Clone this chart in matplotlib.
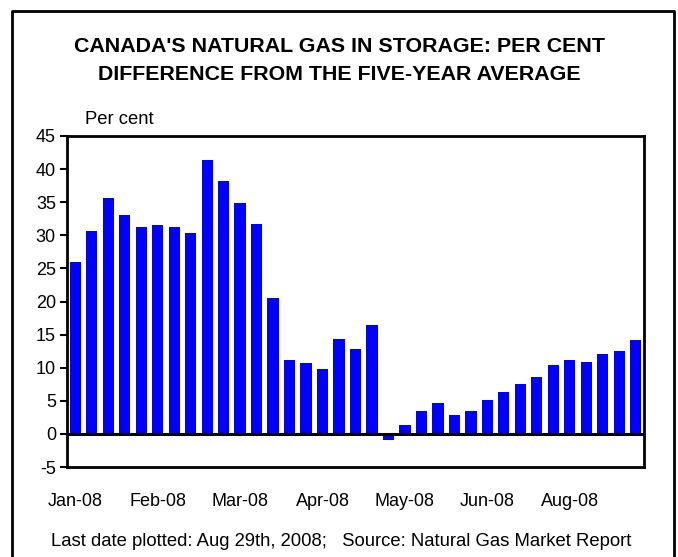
import matplotlib
matplotlib.use("Agg")
import matplotlib.pyplot as plt
import numpy as np
from matplotlib.lines import Line2D

plt.rcParams['font.family'] = ['Liberation Sans', 'DejaVu Sans']
plt.rcParams['axes.unicode_minus'] = False

# weekly storage difference vs five-year average, per cent
values = [26.0, 30.7, 35.6, 33.1, 31.3, 31.6, 31.3, 30.4, 41.4, 38.2,
          34.9, 31.7, 20.5, 11.2, 10.7, 9.8, 14.3, 12.8, 16.5, -0.9,
          1.4, 3.5, 4.7, 2.9, 3.5, 5.1, 6.3, 7.5, 8.6, 10.4,
          11.2, 10.9, 12.1, 12.5, 14.2]
tick_idx = [0, 5, 10, 15, 20, 25, 30]
tick_labels = ["Jan-08", "Feb-08", "Mar-08", "Apr-08", "May-08", "Jun-08", "Aug-08"]
y_ticks = list(range(-5, 50, 5))

fig = plt.figure(figsize=(6.78, 5.57), dpi=100)
ax = fig.add_axes([67 / 678, 1 - 467 / 557, 577 / 678, 331 / 557])

x = np.arange(len(values))
ax.bar(x, values, width=0.68, color="#0000FF", zorder=2)
ax.axhline(0, color="black", lw=2.2, zorder=3)

ax.set_xlim(-0.5, len(values) - 0.5)
ax.set_ylim(-5, 45)
ax.set_yticks(y_ticks)
ax.set_xticks(tick_idx)
ax.set_xticklabels(tick_labels)
ax.tick_params(axis="x", length=0, pad=19, labelsize=13)
ax.tick_params(axis="y", length=5, width=1.5, direction="out", labelsize=13, pad=3)
for s in ax.spines.values():
    s.set_linewidth(2)

fig.text(0.5, 1 - 47 / 557, "CANADA'S NATURAL GAS IN STORAGE: PER CENT",
         ha="center", va="center", fontsize=15.4, fontweight="bold")
fig.text(0.5, 1 - 75 / 557, "DIFFERENCE FROM THE FIVE-YEAR AVERAGE",
         ha="center", va="center", fontsize=15.4, fontweight="bold")
fig.text(85 / 678, 1 - 120 / 557, "Per cent", ha="left", va="center", fontsize=13.3)
fig.text(341 / 678, 1 - 541 / 557,
         "Last date plotted: Aug 29th, 2008;   Source: Natural Gas Market Report",
         ha="center", va="center", fontsize=13.3)

# outer frame, open at the bottom
fx = [12 / 678, 12 / 678, 674 / 678, 674 / 678]
fy = [-0.05, 1 - 11 / 557, 1 - 11 / 557, -0.05]
fig.add_artist(Line2D(fx, fy, color="black", lw=2, transform=fig.transFigure))

fig.savefig("out.png", dpi=100)
